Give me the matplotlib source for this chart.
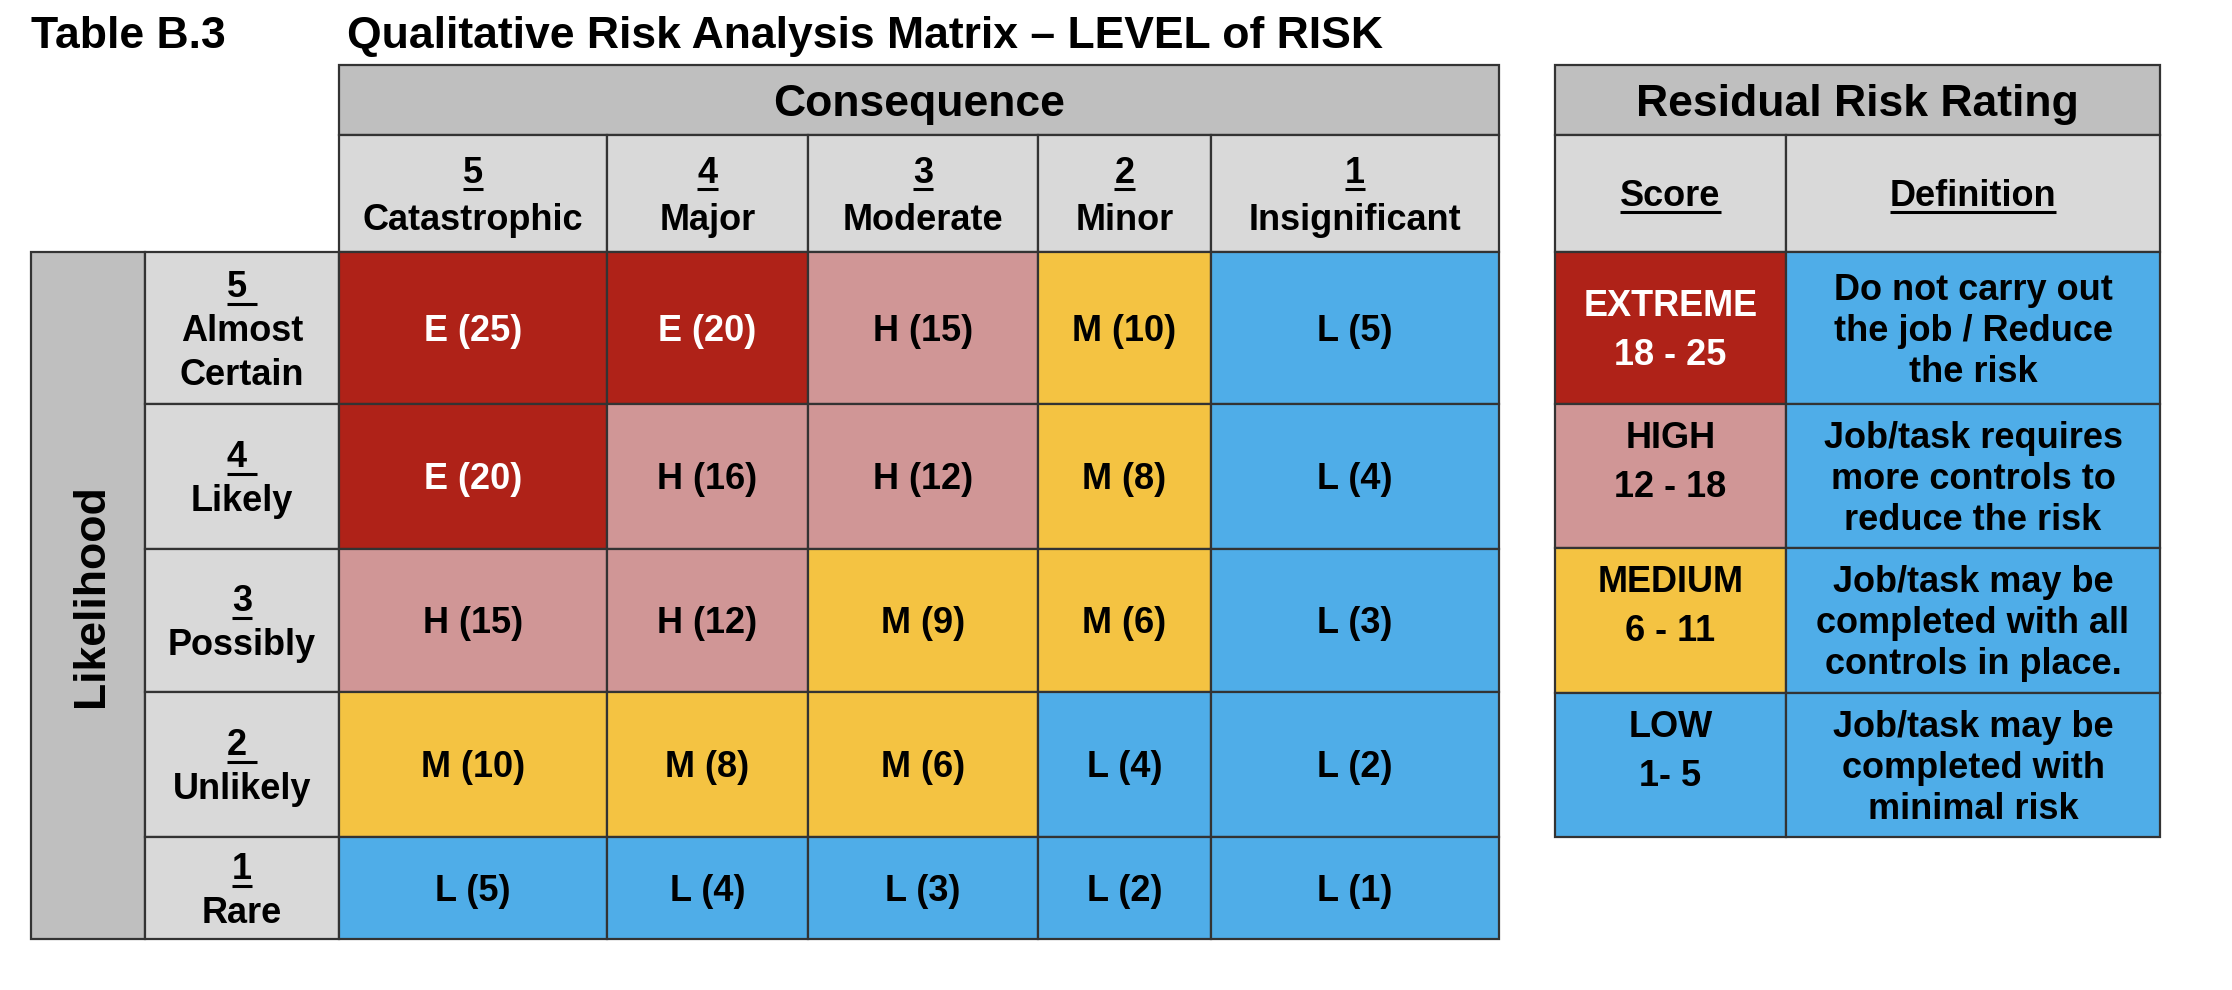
import matplotlib
matplotlib.use("Agg")
import matplotlib.pyplot as plt
from matplotlib.patches import Rectangle

plt.rcParams['font.family'] = ['Liberation Sans', 'DejaVu Sans']

# ---- data ----
table_tag = "Table B.3"
title = "Qualitative Risk Analysis Matrix \u2013 LEVEL of RISK"

consequence_digits = ["5", "4", "3", "2", "1"]
consequence_names = ["Catastrophic", "Major", "Moderate", "Minor", "Insignificant"]

likelihood_digits = ["5 ", "4 ", "3", "2 ", "1"]
likelihood_names = [["Almost", "Certain"], ["Likely"], ["Possibly"], ["Unlikely"], ["Rare"]]

risk_letters = [["E", "E", "H", "M", "L"],
                ["E", "H", "H", "M", "L"],
                ["H", "H", "M", "M", "L"],
                ["M", "M", "M", "L", "L"],
                ["L", "L", "L", "L", "L"]]
risk_scores = [[25, 20, 15, 10, 5],
               [20, 16, 12, 8, 4],
               [15, 12, 9, 6, 3],
               [10, 8, 6, 4, 2],
               [5, 4, 3, 2, 1]]

rating_letters = ["E", "H", "M", "L"]
rating_names = ["EXTREME", "HIGH", "MEDIUM", "LOW"]
rating_ranges = ["18 - 25", "12 - 18", "6 - 11", "1- 5"]
rating_definitions = [["Do not carry out", "the job / Reduce", "the risk"],
                      ["Job/task requires", "more controls to", "reduce the risk"],
                      ["Job/task may be", "completed with all", "controls in place."],
                      ["Job/task may be", "completed with", "minimal risk"]]

# ---- style ----
level_colors = {"E": "#AF2218", "H": "#D09696", "M": "#F4C342", "L": "#4FADE8"}
text_colors = {"E": "white", "H": "black", "M": "black", "L": "black"}
GRAY = "#BFBFBF"
LIGHT = "#D9D9D9"
EDGE = "#333333"

# layout (pixel grid)
mx = [339, 607, 808, 1038, 1211, 1499]
my = [252, 404, 549, 692, 837, 939]
lx = [31, 145, 339]
top, hdr = 65, 135
rx = [1555, 1786, 2160]
ry = [252, 404, 548, 693, 837]

fig = plt.figure(figsize=(22.32, 9.9), dpi=100)
ax = fig.add_axes([0, 0, 1, 1])
ax.set_xlim(0, 2232)
ax.set_ylim(990, 0)
ax.axis('off')

PX = 100 / 72.0


def cap(size):
    return 0.716 * size * PX


def box(x0, x1, y0, y1, fc):
    ax.add_patch(Rectangle((x0, y0), x1 - x0, y1 - y0, facecolor=fc,
                           edgecolor=EDGE, lw=1.6))


def lines(xc, yc, strs, pitch, size=26, color='black', first=None):
    n = len(strs)
    b0 = yc - (n - 1) / 2 * pitch + cap(size) / 2 if first is None else first
    return [ax.text(xc, b0 + i * pitch, s, ha='center', va='baseline',
                    fontsize=size, fontweight='bold', color=color)
            for i, s in enumerate(strs)]


underlined = []  # (text artist, offset below baseline, extra to the right)

# titles
ax.text(31, 48, table_tag, fontsize=32, fontweight='bold', va='baseline')
ax.text(347, 48, title, fontsize=32, fontweight='bold', va='baseline')

# consequence header
box(mx[0], mx[-1], top, hdr, GRAY)
lines((mx[0] + mx[-1]) / 2, (top + hdr) / 2, ["Consequence"], 0, size=32)
for j in range(5):
    box(mx[j], mx[j + 1], hdr, my[0], LIGHT)
    t = lines((mx[j] + mx[j + 1]) / 2, (hdr + my[0]) / 2,
              [consequence_digits[j], consequence_names[j]], 47)
    underlined.append((t[0], 6, 0))

# likelihood side
box(lx[0], lx[1], my[0], my[-1], GRAY)
ax.text(103, (my[0] + my[-1]) / 2, "Likelihood", rotation=90, rotation_mode='anchor',
        ha='center', va='baseline', fontsize=32, fontweight='bold')
for i in range(5):
    box(lx[1], lx[2], my[i], my[i + 1], LIGHT)
    d = likelihood_digits[i]
    shift = -5 if d.endswith(" ") else 0
    t = lines((lx[1] + lx[2]) / 2, (my[i] + my[i + 1]) / 2,
              [d.strip()] + likelihood_names[i], 44)
    if shift:
        t[0].set_x(t[0].get_position()[0] + shift)
    underlined.append((t[0], 7, 10 if shift else 0))

# matrix
for i in range(5):
    for j in range(5):
        lv = risk_letters[i][j]
        box(mx[j], mx[j + 1], my[i], my[i + 1], level_colors[lv])
        lines((mx[j] + mx[j + 1]) / 2, (my[i] + my[i + 1]) / 2,
              ["%s (%d)" % (lv, risk_scores[i][j])], 0, color=text_colors[lv])

# residual risk rating table
box(rx[0], rx[-1], top, hdr, GRAY)
lines((rx[0] + rx[-1]) / 2, (top + hdr) / 2, ["Residual Risk Rating"], 0, size=32)
for k, head in enumerate(["Score", "Definition"]):
    box(rx[k], rx[k + 1], hdr, ry[0], LIGHT)
    t = lines((rx[k] + rx[k + 1]) / 2, (hdr + ry[0]) / 2, [head], 0)
    underlined.append((t[0], 6, 0))

for i in range(4):
    lv = rating_letters[i]
    box(rx[0], rx[1], ry[i], ry[i + 1], level_colors[lv])
    first = None if i == 0 else ry[i] + 44
    lines((rx[0] + rx[1]) / 2, (ry[i] + ry[i + 1]) / 2,
          [rating_names[i], rating_ranges[i]], 49, color=text_colors[lv], first=first)
    box(rx[1], rx[2], ry[i], ry[i + 1], level_colors["L"])
    lines((rx[1] + rx[2]) / 2, (ry[i] + ry[i + 1]) / 2, rating_definitions[i], 41)

# underlines
fig.canvas.draw()
r = fig.canvas.get_renderer()
inv = ax.transData.inverted()
for t, off, extra in underlined:
    bb = t.get_window_extent(r)
    x0 = inv.transform((bb.x0, bb.y0))[0]
    x1 = inv.transform((bb.x1, bb.y0))[0]
    y = t.get_position()[1] + off
    ax.plot([x0, x1 + extra], [y, y], color='black', lw=2.2, solid_capstyle='butt')

fig.savefig("out.png", dpi=100)
